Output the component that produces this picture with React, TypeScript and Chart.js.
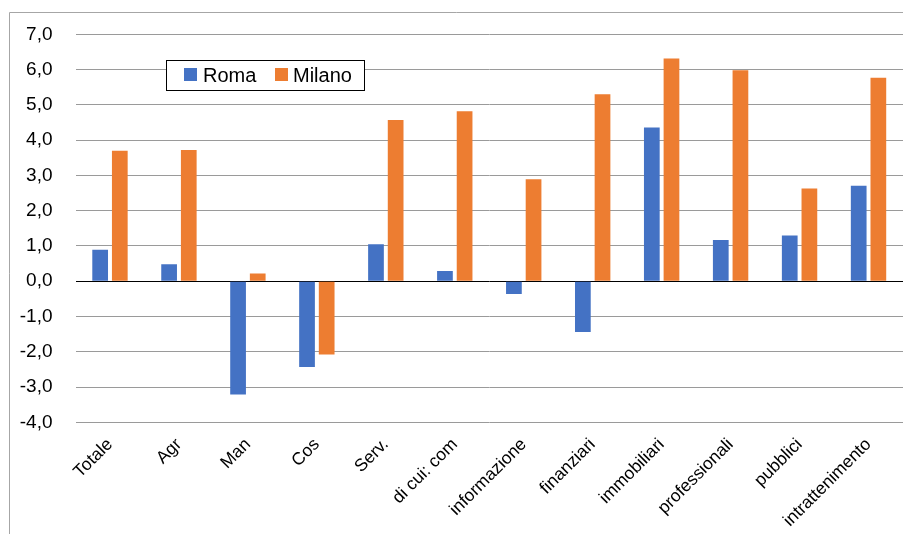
import React, { useEffect, useRef } from "react";
import { Chart, registerables } from "chart.js";

Chart.register(...registerables);

const categories = [
  "Totale", "Agr", "Man", "Cos", "Serv.", "di cui: com", "informazione",
  "finanziari", "immobiliari", "professionali", "pubblici", "intrattenimento",
];
const roma = [0.89, 0.48, -3.21, -2.43, 1.05, 0.29, -0.36, -1.44, 4.36, 1.17, 1.3, 2.71];
const milano = [3.7, 3.72, 0.22, -2.08, 4.57, 4.82, 2.89, 5.3, 6.32, 5.98, 2.63, 5.77];
const seriesNames = ["Roma", "Milano"];
const seriesColors = ["#4472C4", "#ED7D31"];
const yMin = -4;
const yMax = 7;

const FONT = "'Liberation Sans', Arial, sans-serif";

const framePlugin = {
  id: "frame",
  beforeDraw(chart: any) {
    const ctx = chart.ctx;
    ctx.save();
    ctx.strokeStyle = "#a6a6a6";
    ctx.lineWidth = 1;
    ctx.beginPath();
    ctx.moveTo(9.5, 534);
    ctx.lineTo(9.5, 12.5);
    ctx.lineTo(903, 12.5);
    ctx.stroke();
    ctx.restore();
  },
};

const legendPlugin = {
  id: "boxLegend",
  afterDraw(chart: any) {
    const ctx = chart.ctx;
    ctx.save();
    const x = 166.5, y = 60.5, w = 198, h = 30;
    ctx.fillStyle = "#fff";
    ctx.fillRect(x, y, w, h);
    ctx.strokeStyle = "#000";
    ctx.lineWidth = 1;
    ctx.strokeRect(x, y, w, h);
    ctx.font = `20px ${FONT}`;
    ctx.textBaseline = "alphabetic";
    ctx.textAlign = "left";
    const items = [
      { sx: 184, tx: 203 },
      { sx: 275, tx: 293 },
    ];
    chart.data.datasets.forEach((ds: any, i: number) => {
      const it = items[i];
      ctx.fillStyle = ds.backgroundColor;
      ctx.fillRect(it.sx, 68, 13, 13);
      ctx.fillStyle = "#000";
      ctx.fillText(ds.label, it.tx, 82);
    });
    ctx.restore();
  },
};

export default function App() {
  const ref = useRef<HTMLCanvasElement>(null);
  useEffect(() => {
    if (!ref.current) return;
    const chart = new Chart(ref.current, {
      type: "bar",
      data: {
        labels: categories,
        datasets: [
          { label: seriesNames[0], data: roma, backgroundColor: seriesColors[0] },
          { label: seriesNames[1], data: milano, backgroundColor: seriesColors[1] },
        ],
      },
      options: {
        animation: false,
        responsive: false,
        maintainAspectRatio: false,
        layout: { padding: { top: 34, left: 0, right: 0, bottom: 0 } },
        datasets: { bar: { categoryPercentage: 0.57, barPercentage: 0.8 } },
        plugins: { legend: { display: false }, tooltip: { enabled: false } },
        scales: {
          x: {
            grid: { display: false },
            border: { display: false },
            ticks: {
              minRotation: 45,
              maxRotation: 45,
              color: "#000",
              padding: 4,
              font: { family: FONT, size: 17.5 },
              autoSkip: false,
            },
            afterFit(scale: any) {
              scale.height = 534 - 422.3;
            },
          },
          y: {
            min: yMin,
            max: yMax,
            border: { display: false },
            grid: {
              color: (c: any) => (c.tick && c.tick.value === 0 ? "#000" : "#9a9a9a"),
              lineWidth: 1,
              drawTicks: false,
            },
            ticks: {
              stepSize: 1,
              color: "#000",
              padding: 23,
              font: { family: FONT, size: 19 },
              callback: (v: any) => Number(v).toFixed(1).replace(".", ","),
            },
            afterFit(scale: any) {
              scale.width = 75.5;
            },
          },
        },
      },
      plugins: [framePlugin, legendPlugin],
    });
    return () => chart.destroy();
  }, []);
  return (
    <div style={{ position: "fixed", left: 0, top: 0, width: 903, height: 534, background: "#fff" }}>
      <canvas ref={ref} width={903} height={534} style={{ display: "block" }} />
    </div>
  );
}
